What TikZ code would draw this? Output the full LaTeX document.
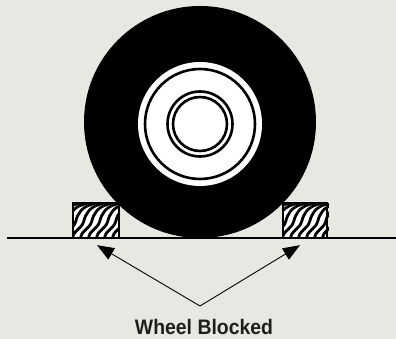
\documentclass[tikz,border=0pt]{standalone}
\usepackage{fontspec}
\setmainfont{Liberation Sans}
\usetikzlibrary{arrows.meta, positioning, calc}
\definecolor{paper}{RGB}{232,232,227}
\definecolor{ink}{RGB}{30,30,30}

\begin{document}
\begin{tikzpicture}[x=1pt, y=1pt,
      tire/.style={circle, fill=black, minimum size=232pt, inner sep=0pt},
      hub/.style={circle, fill=white, minimum size=124pt, inner sep=0pt},
      ring/.style={circle, draw=black, line width=2.6pt, inner sep=0pt},
      chock/.style={rectangle, fill=white, minimum width=46pt, minimum height=35pt, inner sep=0pt},
      grain/.style={line width=2.8pt},
      pointer/.style={-{Triangle[length=17pt, width=13pt]}, line width=0.9pt},
      caption/.style={anchor=base, text=ink, font=\fontsize{21}{24}\selectfont\bfseries}]

      \fill[paper] (0,0) rectangle (396,339);
      \useasboundingbox (0,0) rectangle (396,339);

      % Tyre and hub
      \node[tire] (tire) at (200,217) {};
      \node[hub] (hub) at (200,215) {};
      \node[ring, minimum size=110pt] (rim) at (hub) {};
      \node[ring, minimum size=65pt] (bore) at (hub) {};
      \node[ring, minimum size=54pt] (cap) at (hub) {};

      % Wooden blocks
      \node[chock] (lblock) at (96,118.5) {};
      \node[chock, minimum width=44pt] (rblock) at (305,118.5) {};
      \foreach \b in {lblock, rblock} {
        \begin{scope}[shift={(\b.south west)}]
          \clip (0,0) rectangle (46,35);
          \foreach \x in {-32,-24,...,46}
            \draw[grain] (\x,-1) .. controls (\x-1,7) and (\x+9,9) .. (\x+11,17)
              .. controls (\x+13,25) and (\x+17,31) .. (\x+27,34)
              .. controls (\x+31,35) .. (\x+36,37);
        \end{scope}
        \draw[line width=1.8pt] (\b.south west) rectangle (\b.north east);
      }

      % Ground
      \draw[line width=1.8pt] (7,101) -- (396,101);

      % Arrows
      \coordinate (apex) at (200,33);
      \coordinate (ltip) at ($(lblock.south)+(1,-7)$);
      \coordinate (rtip) at ($(rblock.south)+(-5,-7)$);
      \draw[pointer] (apex) -- (ltip);
      \draw[pointer] (apex) -- (rtip);

      \node[caption] (label) at (204,4) {\scalebox{0.925}[1]{Wheel Blocked}};
    \end{tikzpicture}
\end{document}
